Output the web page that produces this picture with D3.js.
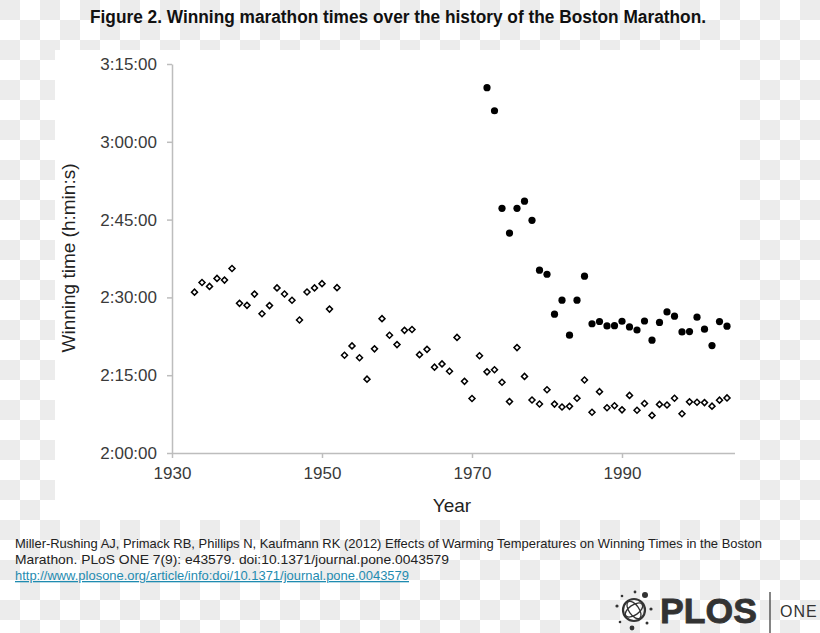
<!DOCTYPE html>
<html lang="en">
<head>
  <meta charset="UTF-8">
  <title>Boston Marathon winning times</title>
  <script src="https://d3js.org/d3.v7.min.js"></script>
  <style>
    body {margin: 0; padding: 0; background: #fff;}
    svg {display: block;}
    .axis text {font-family: "Liberation Sans", Arial, sans-serif; font-size: 17px; fill: #3a3a3a;}
    .axis path, .axis line {stroke: #bdbdbd; stroke-width: 1.5px;}
  </style>
</head>
<body>
  <div id="chart"></div>
  <script>
    // men's winners (open diamonds)
    const menYears = [1933,1934,1935,1936,1937,1938,1939,1940,1941,1942,1943,1944,1945,1946,1947,1948,1949,1950,
      1951,1952,1953,1954,1955,1956,1957,1958,1959,1960,1961,1962,1963,1964,1965,1966,1967,1968,1969,1970,
      1971,1972,1973,1974,1975,1976,1977,1978,1979,1980,1981,1982,1983,1984,1985,1986,1987,1988,1989,1990,
      1991,1992,1993,1994,1995,1996,1997,1998,1999,2000,2001,2002,2003,2004];
    const menTimes = ["2:31:01","2:32:53","2:32:07","2:33:40","2:33:20","2:35:34","2:28:51","2:28:28","2:30:38","2:26:51",
      "2:28:25","2:31:50","2:30:40","2:29:27","2:25:39","2:31:02","2:31:50","2:32:39","2:27:45","2:31:53",
      "2:18:51","2:20:39","2:18:22","2:14:14","2:20:05","2:25:54","2:22:42","2:20:54","2:23:39","2:23:48",
      "2:18:58","2:19:59","2:16:33","2:17:11","2:15:45","2:22:17","2:13:49","2:10:30","2:18:45","2:15:39",
      "2:16:03","2:13:39","2:09:55","2:20:19","2:14:46","2:10:13","2:09:27","2:12:11","2:09:26","2:08:52",
      "2:09:00","2:10:34","2:14:05","2:07:51","2:11:50","2:08:43","2:09:06","2:08:19","2:11:06","2:08:14",
      "2:09:33","2:07:15","2:09:22","2:09:15","2:10:34","2:07:34","2:09:52","2:09:47","2:09:43","2:09:02",
      "2:10:11","2:10:37"];

    // women's winners (filled circles)
    const womenYears = [1972,1973,1974,1975,1976,1977,1978,1979,1980,1981,1982,1983,1984,1985,1986,1987,1988,
      1989,1990,1991,1992,1993,1994,1995,1996,1997,1998,1999,2000,2001,2002,2003,2004];
    const womenTimes = ["3:10:26","3:05:59","2:47:11","2:42:24","2:47:10","2:48:33","2:44:52","2:35:15","2:34:28",
      "2:26:46","2:29:28","2:22:43","2:29:28","2:34:06","2:24:55","2:25:21","2:24:30","2:24:33","2:25:24",
      "2:24:18","2:23:43","2:25:27","2:21:45","2:25:11","2:27:12","2:26:23","2:23:21","2:23:25","2:26:11",
      "2:23:53","2:20:43","2:25:20","2:24:27"];

    const xTicks = [1930, 1950, 1970, 1990];
    const yTicks = ["2:00:00","2:15:00","2:30:00","2:45:00","3:00:00","3:15:00"];

    const titleText = "Figure 2. Winning marathon times over the history of the Boston Marathon.";
    const citeLines = [
      "Miller-Rushing AJ, Primack RB, Phillips N, Kaufmann RK (2012) Effects of Warming Temperatures on Winning Times in the Boston",
      "Marathon. PLoS ONE 7(9): e43579. doi:10.1371/journal.pone.0043579"
    ];
    const citeLink = "http://www.plosone.org/article/info:doi/10.1371/journal.pone.0043579";

    const toSec = s => { const p = s.split(":").map(Number); return p[0]*3600 + p[1]*60 + p[2]; };
    const fmt = v => { const h = Math.floor(v/3600), m = Math.floor(v%3600/60), s = v%60;
      return `${h}:${String(m).padStart(2,"0")}:${String(s).padStart(2,"0")}`; };

    const W = 820, H = 633;
    const svg = d3.select("#chart").append("svg").attr("width", W).attr("height", H);

    // checkerboard backdrop
    const pat = svg.append("defs").append("pattern")
      .attr("id", "checker").attr("width", 40).attr("height", 40)
      .attr("patternUnits", "userSpaceOnUse");
    pat.append("rect").attr("width", 40).attr("height", 40).attr("fill", "#fff");
    pat.append("rect").attr("width", 20).attr("height", 20).attr("fill", "#ececec");
    pat.append("rect").attr("x", 20).attr("y", 20).attr("width", 20).attr("height", 20).attr("fill", "#ececec");
    svg.append("rect").attr("width", W).attr("height", H).attr("fill", "url(#checker)");

    // white plot panel
    svg.append("rect").attr("x", 55).attr("y", 50).attr("width", 685).attr("height", 470).attr("fill", "#fff");

    svg.append("text")
      .attr("x", 90).attr("y", 23)
      .attr("textLength", 616).attr("lengthAdjust", "spacingAndGlyphs")
      .style("font-family", "'Liberation Sans Narrow', 'Liberation Sans', Arial, sans-serif")
      .style("font-weight", "bold").style("font-size", "18px").style("fill", "#111")
      .text(titleText);

    const x = d3.scaleLinear().domain([1930, 2005]).range([172, 734.5]);
    const y = d3.scaleLinear().domain([toSec("2:00:00"), toSec("3:15:00")]).range([453, 64]);

    svg.append("g").attr("class", "axis")
      .attr("transform", `translate(0,${y.range()[0]})`)
      .call(d3.axisBottom(x).tickValues(xTicks).tickFormat(d3.format("d")).tickSize(5).tickSizeOuter(0).tickPadding(9));

    svg.append("g").attr("class", "axis")
      .attr("transform", `translate(${x.range()[0]},0)`)
      .call(d3.axisLeft(y).tickValues(yTicks.map(toSec)).tickFormat(fmt).tickSize(5).tickSizeOuter(0).tickPadding(10));

    svg.selectAll(".axis .domain").attr("stroke", "#bdbdbd");

    svg.append("text")
      .attr("transform", `translate(75,258) rotate(-90)`)
      .attr("text-anchor", "middle")
      .style("font-family", "'Liberation Sans', Arial, sans-serif").style("font-size", "19px").style("fill", "#222")
      .text("Winning time (h:min:s)");

    svg.append("text")
      .attr("x", 452).attr("y", 512).attr("text-anchor", "middle")
      .style("font-family", "'Liberation Sans', Arial, sans-serif").style("font-size", "19px").style("fill", "#222")
      .text("Year");

    const men = menYears.map((yr, i) => ({year: yr, t: toSec(menTimes[i])}));
    const women = womenYears.map((yr, i) => ({year: yr, t: toSec(womenTimes[i])}));

    svg.append("g").selectAll("path").data(men).join("path")
      .attr("d", d3.symbol(d3.symbolSquare, 18))
      .attr("transform", d => `translate(${x(d.year)},${y(d.t)}) rotate(45)`)
      .attr("fill", "#fff").attr("stroke", "#000").attr("stroke-width", 1.5);

    svg.append("g").selectAll("circle").data(women).join("circle")
      .attr("cx", d => x(d.year)).attr("cy", d => y(d.t)).attr("r", 3.6)
      .attr("fill", "#000");

    // citation
    const citeFont = "'Liberation Sans Narrow', 'Liberation Sans', Arial, sans-serif";
    const citeW = [747, 434];
    citeLines.forEach((line, i) => {
      svg.append("text").attr("x", 15).attr("y", 548 + i*16)
        .attr("textLength", citeW[i]).attr("lengthAdjust", "spacingAndGlyphs")
        .style("font-family", citeFont).style("font-size", "13px").style("fill", "#222")
        .text(line);
    });
    svg.append("text").attr("x", 15).attr("y", 580)
      .attr("textLength", 394).attr("lengthAdjust", "spacingAndGlyphs")
      .style("font-family", citeFont).style("font-size", "13px").style("fill", "#1f8bb0")
      .style("text-decoration", "underline")
      .text(citeLink);

    // PLOS ONE logo
    const logo = svg.append("g").attr("transform", "translate(634,610)");
    logo.append("circle").attr("r", 11).attr("fill", "none").attr("stroke", "#333").attr("stroke-width", 2.2);
    logo.append("ellipse").attr("rx", 10).attr("ry", 5).attr("transform", "rotate(-35)")
      .attr("fill", "none").attr("stroke", "#333").attr("stroke-width", 1.3);
    logo.append("ellipse").attr("rx", 10).attr("ry", 5).attr("transform", "rotate(55)")
      .attr("fill", "none").attr("stroke", "#333").attr("stroke-width", 1.3);
    const dots = [[-17,-4,1.6],[-12,-14,1.3],[1,-18,1.4],[11,-15,3],[17,-1,1.6],[13,13,1.5],[-2,18,2.4],[-14,12,1.3]];
    logo.selectAll("circle.dot").data(dots).join("circle").attr("class", "dot")
      .attr("cx", d => d[0]).attr("cy", d => d[1]).attr("r", d => d[2]).attr("fill", "#333");
    svg.append("text").attr("x", 660).attr("y", 623).attr("textLength", 97).attr("lengthAdjust", "spacingAndGlyphs")
      .style("font-family", "'Liberation Sans', Arial, sans-serif").style("font-weight", "900")
      .style("font-size", "35px").style("fill", "#333").style("stroke", "#333").style("stroke-width", 0.8)
      .text("PLOS");
    svg.append("line").attr("x1", 770).attr("x2", 770).attr("y1", 592).attr("y2", 633)
      .attr("stroke", "#333").attr("stroke-width", 1.2);
    svg.append("text").attr("x", 780).attr("y", 617)
      .style("font-family", "'Liberation Sans', Arial, sans-serif").style("letter-spacing", "1px")
      .style("font-size", "16px").style("fill", "#333").text("ONE");
  </script>
</body>
</html>
